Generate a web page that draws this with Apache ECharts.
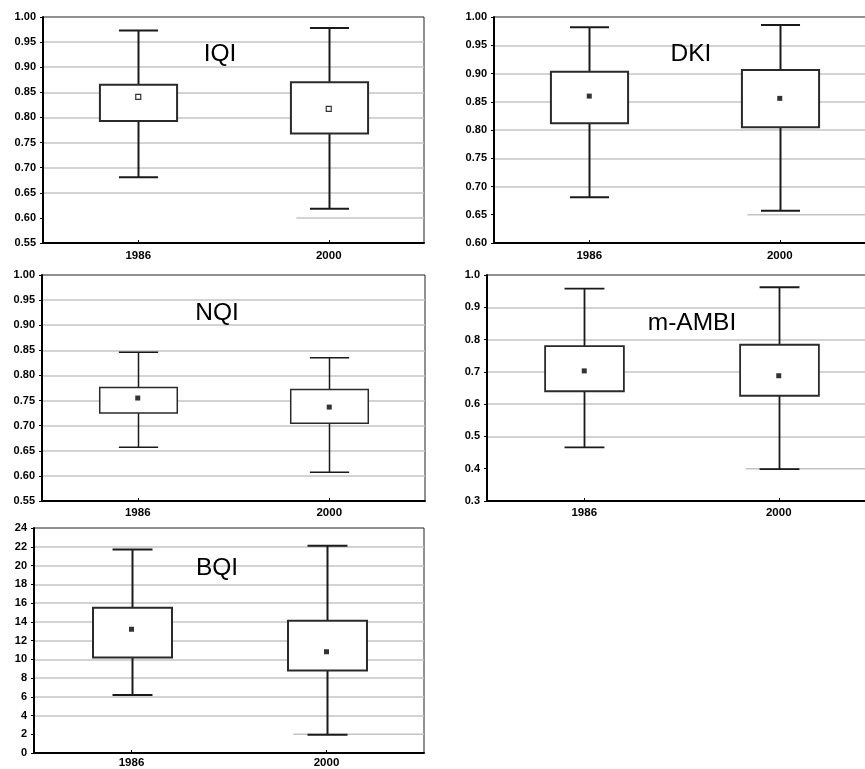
<!DOCTYPE html>
<html>
<head>
<meta charset="utf-8">
<script src="https://cdn.jsdelivr.net/npm/echarts@6/dist/echarts.min.js"></script>
<style>
html, body { margin: 0; padding: 0; background: #fff; }
#main { width: 865px; height: 769px; }
</style>
</head>
<body>
<div id="main"></div>
<script>
var years = ['1986', '2000'];

// per year: [whisker low, box low, box high, whisker high]
var iqiBox = [[0.681, 0.793, 0.865, 0.973], [0.618, 0.768, 0.870, 0.978]];
var iqiMean = [0.841, 0.817];
var dkiBox = [[0.681, 0.812, 0.903, 0.982], [0.657, 0.805, 0.906, 0.986]];
var dkiMean = [0.860, 0.856];
var nqiBox = [[0.657, 0.725, 0.776, 0.846], [0.607, 0.705, 0.772, 0.835]];
var nqiMean = [0.755, 0.737];
var ambiBox = [[0.466, 0.640, 0.780, 0.958], [0.399, 0.626, 0.784, 0.962]];
var ambiMean = [0.703, 0.688];
var bqiBox = [[6.2, 10.2, 15.5, 21.7], [1.95, 8.8, 14.1, 22.1]];
var bqiMean = [13.2, 10.8];

// gridline that is only drawn on the right part of each panel
var cutLine = [0.60, 0.65, null, 0.4, 2];

var panels = [
  { name: 'IQI', box: iqiBox, mean: iqiMean, min: 0.55, max: 1.0, step: 0.05, dec: 2,
    grid: { left: 43, top: 17, width: 381, height: 226 }, title: [220, 54], lw: 2, hollow: true, xm: 8 },
  { name: 'DKI', box: dkiBox, mean: dkiMean, min: 0.60, max: 1.0, step: 0.05, dec: 2,
    grid: { left: 494, top: 17, width: 381, height: 226 }, title: [691, 54], lw: 2, xm: 8 },
  { name: 'NQI', box: nqiBox, mean: nqiMean, min: 0.55, max: 1.0, step: 0.05, dec: 2,
    grid: { left: 42, top: 275, width: 383, height: 226 }, title: [217, 313], lw: 1.5, xm: 7 },
  { name: 'm-AMBI', box: ambiBox, mean: ambiMean, min: 0.3, max: 1.0, step: 0.1, dec: 1,
    grid: { left: 487, top: 275, width: 389, height: 226 }, title: [692, 323], lw: 1.8, xm: 7 },
  { name: 'BQI', box: bqiBox, mean: bqiMean, min: 0, max: 24, step: 2, dec: 0,
    grid: { left: 34, top: 528, width: 390, height: 225 }, title: [217, 568], lw: 2, xm: 5 }
];

var font = '"Liberation Sans", Arial, sans-serif';
var gridGray = '#c4c4c4';

function boxRenderer(lw) {
  return function (params, api) {
    var i = api.value(0);
    var lo = api.coord([i, api.value(1)]);
    var q1 = api.coord([i, api.value(2)]);
    var q3 = api.coord([i, api.value(3)]);
    var hi = api.coord([i, api.value(4)]);
    var band = api.size([1, 0])[0];
    var bw = band * 0.405;
    var cw = band * 0.205;
    var x = Math.round(lo[0]) + 0.5;
    var st = { stroke: '#1a1a1a', lineWidth: lw };
    return {
      type: 'group',
      children: [
        { type: 'line', shape: { x1: x, y1: hi[1], x2: x, y2: q3[1] }, style: st },
        { type: 'line', shape: { x1: x, y1: q1[1], x2: x, y2: lo[1] }, style: st },
        { type: 'line', shape: { x1: x - cw / 2, y1: hi[1], x2: x + cw / 2, y2: hi[1] }, style: st },
        { type: 'line', shape: { x1: x - cw / 2, y1: lo[1], x2: x + cw / 2, y2: lo[1] }, style: st },
        { type: 'rect', shape: { x: x - bw / 2, y: q3[1], width: bw, height: q1[1] - q3[1] },
          style: { stroke: '#2a2a2a', lineWidth: lw, fill: '#fff' } }
      ]
    };
  };
}

function splitColors(hasCut) {
  var c = [];
  for (var k = 0; k < 30; k++) c.push(gridGray);
  if (hasCut) c[0] = 'rgba(0,0,0,0)';
  return c;
}

var grids = [], xAxes = [], yAxes = [], series = [], graphics = [];

panels.forEach(function (p, g) {
  grids.push(Object.assign({
    show: true, borderColor: '#222', borderWidth: 1, outerBoundsMode: 'none', containLabel: false
  }, p.grid));

  xAxes.push({
    type: 'category', gridIndex: g, data: years,
    axisLine: { lineStyle: { color: '#000', width: 2 } },
    axisTick: { show: true, alignWithLabel: true, inside: true, length: 3, lineStyle: { color: '#000' } },
    axisLabel: { color: '#000', fontFamily: font, fontWeight: 'bold', fontSize: 11.5, margin: p.xm - 1 },
    splitLine: { show: false }
  });
  xAxes.push({ type: 'value', gridIndex: g, min: 0, max: 2, show: false });

  yAxes.push({
    type: 'value', gridIndex: g, min: p.min, max: p.max, interval: p.step,
    axisLine: { show: true, lineStyle: { color: '#000', width: 2 } },
    axisTick: { show: true, inside: false, length: 3, lineStyle: { color: '#000' } },
    axisLabel: {
      color: '#000', fontFamily: font, fontWeight: 'bold', fontSize: 11, margin: 7,
      formatter: function (v) { return v.toFixed(p.dec); }
    },
    splitLine: {
      show: true, showMinLine: false, showMaxLine: false,
      lineStyle: { color: splitColors(cutLine[g] != null), width: 1.5 }
    }
  });

  series.push({
    type: 'custom', xAxisIndex: 2 * g, yAxisIndex: g,
    renderItem: boxRenderer(p.lw),
    encode: { x: 0, y: [1, 2, 3, 4] },
    data: p.box.map(function (b, i) { return [i].concat(b); }),
    z: 3
  });

  series.push({
    type: 'scatter', xAxisIndex: 2 * g, yAxisIndex: g,
    data: p.mean, symbol: 'rect', symbolSize: 5,
    itemStyle: p.hollow ? { color: '#fff', borderColor: '#000', borderWidth: 1.2 } : { color: '#000' },
    z: 5
  });

  if (cutLine[g] != null) {
    series.push({
      type: 'line', xAxisIndex: 2 * g + 1, yAxisIndex: g,
      data: [[1.33, cutLine[g]], [2, cutLine[g]]],
      showSymbol: false, symbol: 'none',
      lineStyle: { color: gridGray, width: 1.5 },
      z: 1
    });
  }

  graphics.push({
    type: 'text', x: p.title[0], y: p.title[1], z: 100,
    style: { text: p.name, font: '24.5px ' + font, fill: '#000', align: 'center', verticalAlign: 'middle' }
  });
});

var chart = echarts.init(document.getElementById('main'));
chart.setOption({
  animation: false,
  backgroundColor: '#fff',
  grid: grids,
  xAxis: xAxes,
  yAxis: yAxes,
  series: series,
  graphic: graphics
});
</script>
</body>
</html>
